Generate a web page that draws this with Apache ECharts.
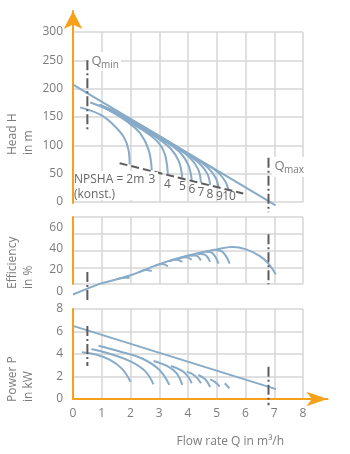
<!DOCTYPE html>
<html lang="en">
<head>
  <meta charset="UTF-8" />
  <title>Pump curves</title>
  <script src="https://cdn.jsdelivr.net/npm/echarts@6.0.0/dist/echarts.min.js"></script>
  <style>
    html, body { margin: 0; padding: 0; background: #fff; }
  </style>
</head>
<body>
  <div id="main" style="width: 350px; height: 454px;"></div>

  <script>
    // flow rate Q (m3/h) limits
    const qMin = 0.5;
    const qMax = 6.8;

    // head H (m)
    const headMain = [[0, 207], [7.05, -6]];
    const headNpsha = [
      [[0.25, 167], [0.95, 154], [1.41, 136], [1.76, 115], [1.93, 92], [1.97, 66]],
      [[0.6, 175.5], [1.3, 161], [1.875, 142], [2.34, 121], [2.63, 92], [2.74, 56]],
      [[0.92, 171.5], [2.0, 140], [2.6, 121], [3.0, 103], [3.2, 84], [3.3, 49]],
      [[0.92, 171.5], [2.0, 142], [2.9, 114], [3.4, 94], [3.68, 72], [3.8, 43]],
      [[0.92, 171.5], [2.0, 143.5], [3.2, 107], [3.75, 86], [4.02, 64], [4.13, 38]],
      [[0.95, 171], [2.0, 144.5], [3.5, 99], [4.05, 79], [4.35, 58], [4.45, 34]],
      [[0.95, 171], [2.0, 145], [3.8, 90.5], [4.38, 69], [4.67, 50], [4.77, 30]],
      [[0.95, 171], [2.0, 145.5], [4.1, 82], [4.7, 60], [4.97, 42], [5.06, 26]],
      [[0.95, 171], [2.0, 146], [4.4, 73], [5.03, 53], [5.3, 36], [5.4, 22]]
    ];
    const npshaLine = [[1.62, 68.4], [5.92, 15]];
    const headQmin = [[qMin, 250], [qMin, 125]];
    const headQmax = [[qMax, 78], [qMax, -18]];

    // efficiency (%)
    const effMain = [[0, -3], [0.5, 2.5], [1, 7.5], [2, 15], [3, 25.5], [4, 33.5],
      [5, 39.3], [5.55, 41.5], [6, 39.5], [6.5, 33], [6.8, 26], [7.05, 16]];
    const effHooks = [
      [[1.52, 11.2], [1.77, 12.8], [1.97, 12.8]],
      [[2.29, 17.8], [2.54, 20], [2.74, 19]],
      [[2.85, 23.8], [3.1, 25.5], [3.3, 23.4]],
      [[3.35, 28.1], [3.6, 29.5], [3.8, 27.5]],
      [[3.68, 30.8], [3.93, 32], [4.13, 29.5]],
      [[4.0, 33.3], [4.25, 33.5], [4.45, 29]],
      [[4.32, 35.2], [4.57, 34.5], [4.77, 27.5]],
      [[4.61, 37.1], [4.86, 35.5], [5.06, 26]],
      [[4.95, 38.8], [5.2, 37], [5.45, 26]]
    ];
    const effQmin = [[qMin, 18], [qMin, -8.5]];
    const effQmax = [[qMax, 53.5], [qMax, 6.5]];

    // power P (kW)
    const powerMain = [[0, 6.5], [7.06, 0.88]];
    const powerNpsha = [
      [[0.31, 4.15], [0.8, 3.95], [1.3, 3.45], [1.7, 2.7], [2.0, 1.54]],
      [[0.64, 4.44], [1.3, 4.0], [2.0, 3.35], [2.5, 2.5], [2.8, 1.3]],
      [[0.89, 4.74], [1.6, 4.25], [2.4, 3.6], [3.0, 2.6], [3.35, 1.25]],
      [[2.8, 3.38], [3.3, 2.9], [3.6, 2.3], [3.8, 1.25]],
      [[3.41, 2.93], [3.8, 2.5], [4.0, 2.0], [4.13, 1.4]],
      [[3.96, 2.43], [4.25, 2.05], [4.45, 1.4]],
      [[4.36, 2.13], [4.6, 1.75], [4.77, 1.05]],
      [[4.77, 1.75], [4.95, 1.5], [5.1, 1.1]],
      [[5.28, 1.4], [5.44, 0.95]]
    ];
    const powerQmin = [[qMin, 6.5], [qMin, 2.93]];
    const powerQmax = [[qMax, 2.87], [qMax, -0.55]];

    const npshaLabels = ["3", "4", "5", "6", "7", "8", "9", "10"];

    const BLUE = "#88abc8";
    const ORANGE = "#f7a11a";
    const GRID = "#d6d6d6";
    const DARK = "#5c5c5c";
    const TXT = "#7c7c7c";
    const FONT = '"Open Sans"';

    const myChart = echarts.init(document.getElementById("main"));

    function curve(data, axis, smooth) {
      return {
        type: "line", data: data, xAxisIndex: axis, yAxisIndex: axis,
        symbol: "none", smooth: smooth ? 0.4 : false, clip: false, silent: true,
        lineStyle: { color: BLUE, width: 2 }
      };
    }
    function dashed(data, axis, pattern) {
      return {
        type: "line", data: data, xAxisIndex: axis, yAxisIndex: axis,
        symbol: "none", clip: false, silent: true, z: 3,
        lineStyle: { color: DARK, width: 2, type: pattern }
      };
    }
    const dashDot = [10, 3, 2, 3];

    const split = { show: true, lineStyle: { color: GRID, width: 1.5 } };
    const noLabel = { show: false };
    const label = { color: TXT, fontSize: 12, fontFamily: FONT };

    const xAxes = [
      { gridIndex: 0, min: 0, max: 8, interval: 1, axisLine: { show: false }, axisTick: { show: false }, axisLabel: noLabel, splitLine: split },
      { gridIndex: 1, min: 0, max: 8, interval: 1, axisLine: { show: false }, axisTick: { show: false }, axisLabel: noLabel, splitLine: split },
      { gridIndex: 2, min: 0, max: 8, show: false },
      { gridIndex: 3, min: 0, max: 8, interval: 1, axisLine: { show: false }, axisTick: { show: false },
        axisLabel: Object.assign({ margin: 9 }, label), splitLine: split },
      { gridIndex: 4, min: 0, max: 8, show: false },
      { gridIndex: 5, min: 0, max: 8, axisTick: { show: false }, axisLabel: noLabel, splitLine: { show: false },
        axisLine: { show: true, lineStyle: { color: ORANGE, width: 2 }, symbol: ["none", "arrow"], symbolSize: [11, 21] } }
    ];
    const yAxes = [
      { gridIndex: 0, min: 0, max: 300, interval: 50, axisLine: { show: false }, axisTick: { show: false },
        axisLabel: Object.assign({ margin: 10 }, label), splitLine: split },
      { gridIndex: 1, min: 0, max: 4, interval: 1, axisTick: { show: false }, axisLabel: noLabel, splitLine: split,
        axisLine: { show: true, lineStyle: { color: ORANGE, width: 2 } } },
      { gridIndex: 2, min: 0, max: 60, interval: 20, axisLine: { show: false }, axisTick: { show: false },
        axisLabel: Object.assign({ margin: 10 }, label), splitLine: { show: false } },
      { gridIndex: 3, min: 0, max: 8, interval: 2, axisTick: { show: false },
        axisLabel: Object.assign({ margin: 10 }, label), splitLine: split,
        axisLine: { show: true, lineStyle: { color: ORANGE, width: 2 } } },
      { gridIndex: 4, min: 0, max: 1, axisTick: { show: false }, axisLabel: noLabel, splitLine: { show: false },
        axisLine: { show: true, lineStyle: { color: ORANGE, width: 2 }, symbol: ["none", "arrow"], symbolSize: [14, 18] } },
      { gridIndex: 5, min: 0, max: 1, show: false }
    ];

    const series = [];
    series.push(curve(headMain, 0, false));
    headNpsha.forEach((c) => series.push(curve(c, 0, true)));
    series.push(dashed(npshaLine, 0, [8, 4]));
    series.push(dashed(headQmin, 0, dashDot));
    series.push(dashed(headQmax, 0, dashDot));

    series.push(curve(effMain, 2, true));
    effHooks.forEach((c) => series.push(curve(c, 2, true)));
    series.push(dashed(effQmin, 2, dashDot));
    series.push(dashed(effQmax, 2, dashDot));

    series.push(curve(powerMain, 3, false));
    powerNpsha.forEach((c) => series.push(curve(c, 3, true)));
    series.push(dashed(powerQmin, 3, dashDot));
    series.push(dashed(powerQmax, 3, dashDot));

    function txt(x, y, text, size, fill, align) {
      return {
        type: "text", x: x, y: y, z: 20,
        style: {
          text: text, font: size + "px " + FONT, fill: fill || TXT,
          align: align || "left", verticalAlign: "middle",
          textAlign: align || "left", textVerticalAlign: "middle"
        }
      };
    }
    function vtxt(x, y, text) {
      const t = txt(x, y, text, 12);
      t.rotation = Math.PI / 2;
      return t;
    }
    function whiteBox(x, y, w, h) {
      return { type: "rect", z: 15, shape: { x: x, y: y, width: w, height: h }, style: { fill: "#fff" } };
    }

    const npshaPos = [[152, 180], [167.5, 184.5], [182.5, 187], [192, 189.5], [201, 192.5], [210, 194.5], [219.5, 196.5], [229, 197]];
    const npshaTexts = npshaPos.map((p, i) => txt(p[0], p[1], npshaLabels[i], 12, "#666", "center"));

    const graphics = [
      whiteBox(89, 52, 32, 19),
      txt(91.5, 61, "Q", 13),
      txt(101, 65, "min", 10),
      whiteBox(272, 157, 33, 20),
      txt(274.5, 166, "Q", 13),
      txt(284, 170, "max", 10),
      whiteBox(74.5, 171, 71, 29),
      whiteBox(146, 172, 12, 15),
      txt(74, 179.5, "NPSHA = 2m", 12, "#666"),
      txt(74, 194.5, "(konst.)", 12, "#666"),
      vtxt(13, 155, "Head H"),
      vtxt(29, 155, "in m"),
      vtxt(13, 289, "Efficiency"),
      vtxt(29, 289, "in %"),
      vtxt(13, 402, "Power P"),
      vtxt(29, 402, "in kW"),
      txt(176.5, 442, "Flow rate Q in m³/h", 12)
    ].concat(npshaTexts);

    const option = {
      animation: false,
      backgroundColor: "#fff",
      grid: [
        { left: 73, top: 32, width: 230, height: 170 },
        { left: 73, top: 217, width: 230, height: 67 },
        { left: 73, top: 227.3, width: 230, height: 64 },
        { left: 73, top: 309, width: 230, height: 90 },
        { left: 73, top: 11, width: 230, height: 192 },
        { left: 73, top: 309, width: 254.5, height: 90 }
      ],
      xAxis: xAxes,
      yAxis: yAxes,
      series: series,
      graphic: { elements: graphics }
    };

    myChart.setOption(option);
  </script>
</body>
</html>
